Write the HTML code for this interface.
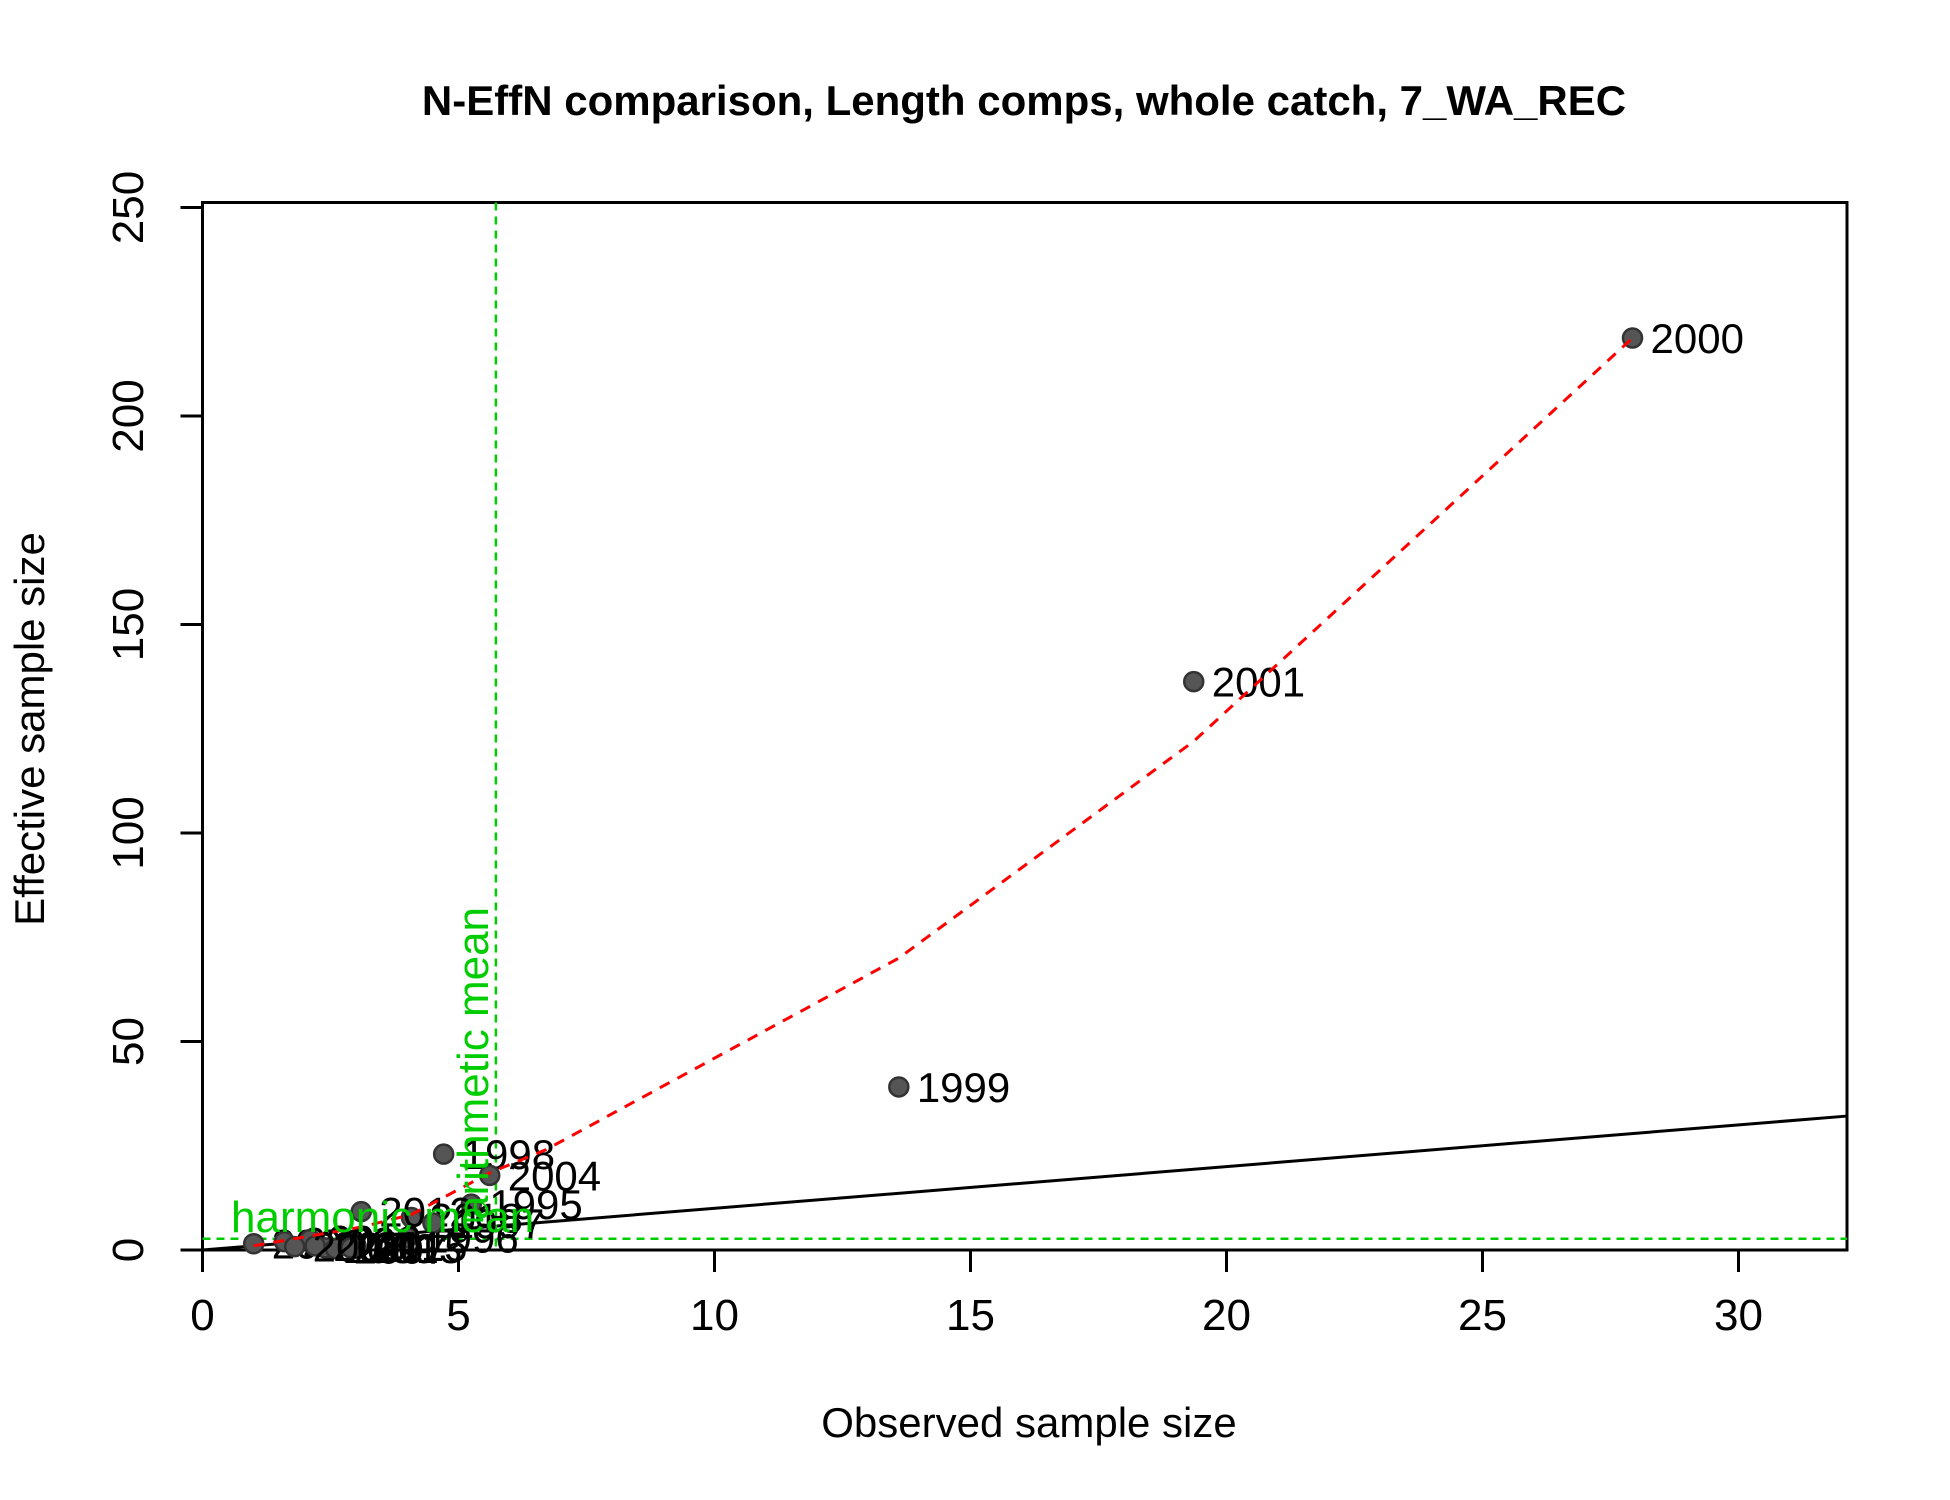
<!DOCTYPE html>
<html><head><meta charset="utf-8"><style>
html,body{margin:0;padding:0;background:#fff}
svg{display:block;font-family:"Liberation Sans",Arial,sans-serif}
</style></head><body>
<svg id="chart" width="1950" height="1500" viewBox="0 0 1950 1500">
<text x="1024" y="115" font-size="42" font-weight="bold" text-anchor="middle">N-EffN comparison, Length comps, whole catch, 7_WA_REC</text>
<text x="1029" y="1437" font-size="42" text-anchor="middle">Observed sample size</text>
<text x="0" y="0" font-size="42" text-anchor="middle" transform="translate(44,729) rotate(-90)">Effective sample size</text>
<g id="axes"></g>
<g id="marks"></g>
</svg>
<script>
const xTicks=[0,5,10,15,20,25,30];
const yTicks=[0,50,100,150,200,250];
const obsN=[27.93,19.36,13.6,4.71,5.61,5.25,4.08,3.1,4.0,4.5,3.0,1.0,1.6,2.1,2.4,2.6,2.9,2.2,1.8];
const effN=[218.7,136.3,39.1,23,17.9,11,7.8,9.2,3,6.5,1,1.5,2,2.5,0.5,0.3,0.5,1,0.8];
const years=["2000","2001","1999","1998","2004","1995","2018","2012","1996","1997","2015","2006","2008","2010","2009","2007","2013","2011","2005"];
const smoothX=[1.0,3.1,4.08,5.61,6.7,13.6,19.36,27.93];
const smoothY=[1.0,5.5,8.5,18.5,24,70,122,218.7];
const harmonicMean=2.7;
const arithmeticMean=5.73;
const L=202.5,R=1847,T=202.5,B=1250;
const sx=v=>L+v*51.2, sy=v=>B-v*4.17;
const NS="http://www.w3.org/2000/svg";
function mk(tag,attrs,parent){const e=document.createElementNS(NS,tag);for(const k in attrs)e.setAttribute(k,attrs[k]);parent.appendChild(e);return e;}
const ax=document.getElementById('axes'), mg=document.getElementById('marks');
const box=mk('rect',{x:L,y:T,width:R-L,height:B-T,fill:'none',stroke:'#000','stroke-width':3},ax);


xTicks.forEach(t=>{
 const l=mk('line',{x1:sx(t),x2:sx(t),y1:B,y2:B+22,stroke:'#000','stroke-width':3},ax);
 
 
 const tx=mk('text',{x:sx(t),y:B+80,'font-size':44,'text-anchor':'middle'},ax);tx.textContent=t;
 
 
});
yTicks.forEach(t=>{
 const l=mk('line',{x1:L-22,x2:L,y1:sy(t),y2:sy(t),stroke:'#000','stroke-width':3},ax);
 
 
 const tx=mk('text',{x:0,y:0,'font-size':44,'text-anchor':'middle',transform:`translate(143,${sy(t)}) rotate(-90)`},ax);tx.textContent=t;
 
 
});
const xmax=(R-L)/51.2;
const one=mk('line',{x1:sx(0),y1:sy(0),x2:R,y2:sy(xmax),stroke:'#000','stroke-width':3},mg);


const hm=mk('line',{x1:L,x2:R,y1:sy(harmonicMean),y2:sy(harmonicMean),stroke:'#00cd00','stroke-width':2.5,'stroke-dasharray':'8,6'},mg);


const am=mk('line',{x1:sx(arithmeticMean),x2:sx(arithmeticMean),y1:T,y2:B,stroke:'#00cd00','stroke-width':2.5,'stroke-dasharray':'8,6'},mg);


obsN.forEach((x,i)=>{
 const c=mk('circle',{cx:sx(x),cy:sy(effN[i]),r:9.5,fill:'#555',stroke:'#333','stroke-width':2.5},mg);
 
 
 const t=mk('text',{x:sx(x)+18,y:sy(effN[i])+15,'font-size':42},mg);t.textContent=years[i];
 
 
});
const sm=mk('polyline',{points:smoothX.map((x,i)=>sx(x)+','+sy(smoothY[i])).join(' '),fill:'none',stroke:'#ff0000','stroke-width':3,'stroke-dasharray':'11,9'},mg);


const hl=mk('text',{x:231,y:1232,'font-size':44,fill:'#00cd00'},mg);hl.textContent='harmonic mean';


const al=mk('text',{x:0,y:0,'font-size':44,fill:'#00cd00',transform:`translate(${sx(arithmeticMean)-8},${B-30}) rotate(-90)`},mg);al.textContent='arithmetic mean';


</script>
</body></html>
